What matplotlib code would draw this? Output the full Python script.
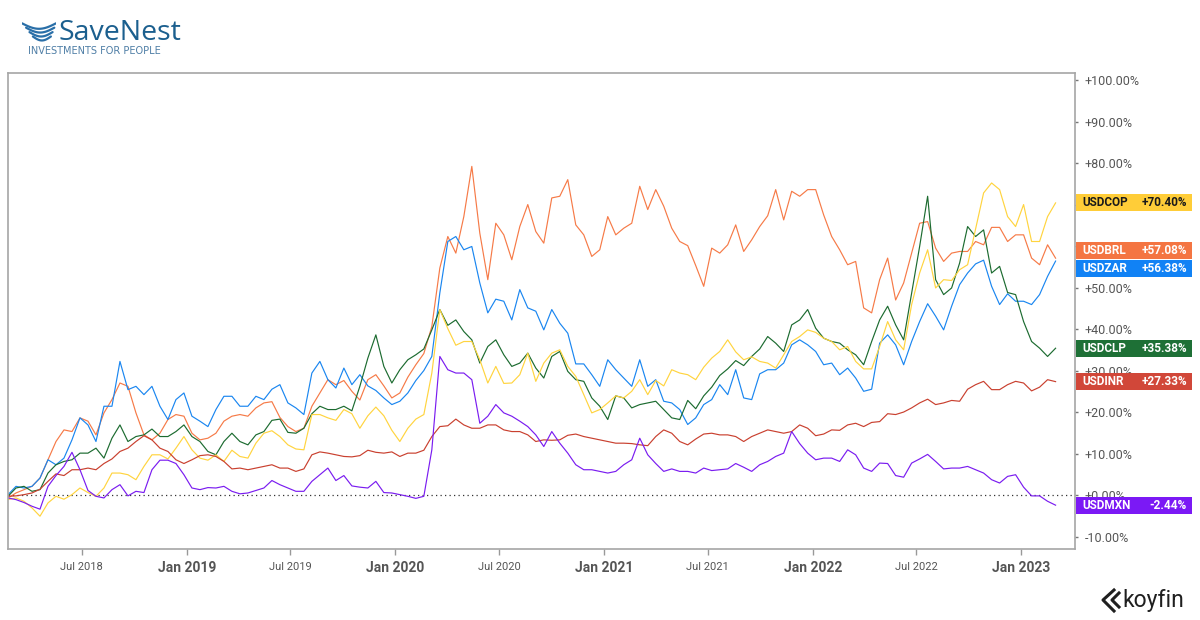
import matplotlib
matplotlib.use("Agg")
import matplotlib.pyplot as plt
import numpy as np
import pandas as pd
from matplotlib.patches import Rectangle
from matplotlib.lines import Line2D
from matplotlib.ticker import FuncFormatter

# ---- data: % change since start, one reading every two weeks ----
START = "2018-02-22"
STEP = "14D"

usdbrl = [-0.7, 0.5, 1.3, 2.1, 4.1, 8.5, 12.9, 15.7, 15.3, 18.6, 17.8, 14.5, 19.8, 23.0, 27.0, 26.2, 19.8,
          14.5, 13.3, 14.9, 18.2, 19.4, 19.0, 14.9, 13.3, 13.7, 14.9, 17.8, 19.0, 19.4, 19.0, 21.0, 22.2, 22.5,
          18.7, 16.5, 15.3, 16.1, 21.4, 24.6, 27.8, 26.6, 27.6, 25.0, 22.9, 27.8, 29.0, 26.3, 23.4, 24.6,
          28.4, 31.4, 34.1, 40.6, 54.7, 62.3, 58.3, 67.1, 79.2, 63.1, 51.9, 65.5, 62.7, 56.7, 64.7, 70.0,
          63.5, 60.7, 71.6, 72.0, 76.0, 65.1, 62.7, 57.5, 59.1, 67.1, 62.7, 64.3, 65.5, 74.4, 68.8, 73.6,
          69.6, 64.3, 61.1, 60.1, 55.3, 50.3, 59.5, 58.3, 60.3, 65.1, 58.7, 61.5, 64.7, 67.3, 73.6, 66.3,
          73.2, 72.0, 73.6, 73.6, 67.5, 62.3, 59.1, 55.5, 56.3, 45.1, 43.9, 51.9, 57.1, 47.0, 51.1, 58.3,
          65.5, 65.9, 59.5, 56.3, 58.3, 58.7, 58.7, 61.1, 60.3, 64.5, 64.5, 61.1, 62.7, 62.7, 57.1, 55.5,
          60.3, 57.08]

usdzar = [0.1, 2.1, 1.7, 2.1, 4.1, 8.5, 7.3, 8.9, 13.3, 18.6, 16.9, 12.9, 21.4, 21.4, 32.2, 25.4, 26.2,
          24.2, 26.2, 21.4, 18.2, 23.0, 24.6, 19.0, 17.8, 16.5, 20.6, 23.8, 23.8, 21.4, 21.4, 23.8, 23.0, 25.5,
          26.6, 22.2, 21.0, 19.4, 29.4, 32.2, 27.8, 25.8, 30.6, 26.6, 29.0, 26.3, 25.2, 23.4, 21.8, 22.6,
          24.6, 27.6, 30.0, 33.4, 48.7, 61.1, 62.3, 59.1, 59.9, 51.1, 43.9, 47.2, 46.7, 42.2, 49.5, 45.1,
          44.3, 39.8, 44.7, 41.4, 39.0, 31.6, 31.6, 29.0, 26.2, 32.6, 30.2, 28.2, 26.2, 32.6, 26.2, 27.8,
          22.6, 22.2, 20.6, 17.0, 18.6, 21.8, 23.0, 26.6, 24.2, 30.2, 23.4, 23.0, 29.2, 30.2, 30.2, 31.8,
          36.2, 37.4, 36.2, 34.6, 31.4, 31.8, 29.0, 30.6, 28.2, 25.0, 25.5, 36.6, 38.6, 36.2, 31.4, 37.0,
          41.8, 46.1, 43.1, 39.8, 45.5, 50.7, 53.5, 55.7, 56.6, 50.3, 45.9, 48.5, 46.7, 46.7, 45.9, 48.3,
          52.7, 56.38]

usdclp = [-0.3, 1.7, 2.1, 0.9, 1.3, 5.3, 7.3, 8.1, 8.5, 10.1, 10.1, 11.3, 8.9, 13.7, 16.9, 12.9, 14.1,
          14.5, 15.9, 14.1, 14.1, 15.3, 16.9, 14.1, 12.9, 10.5, 9.7, 12.9, 14.9, 12.9, 12.1, 14.5, 15.3, 18.0,
          18.3, 15.1, 14.9, 16.1, 19.6, 21.4, 20.6, 20.6, 21.4, 20.3, 26.2, 33.0, 38.6, 31.0, 27.0, 30.2,
          32.6, 33.8, 35.2, 39.8, 44.7, 40.9, 42.2, 39.4, 37.4, 31.8, 35.8, 37.4, 33.8, 31.0, 31.8, 34.2,
          30.6, 28.2, 33.4, 34.6, 29.8, 27.8, 27.4, 23.4, 21.4, 18.2, 23.9, 23.4, 21.0, 21.8, 22.2, 22.6,
          20.6, 18.6, 18.2, 22.8, 20.8, 23.9, 26.0, 28.8, 30.4, 32.4, 31.2, 33.4, 35.2, 38.2, 36.6, 34.6,
          41.0, 42.2, 44.7, 40.2, 37.8, 37.0, 36.6, 35.0, 33.8, 31.4, 37.0, 42.2, 45.5, 41.0, 37.4, 48.7,
          59.9, 72.0, 51.9, 48.3, 49.9, 55.9, 64.7, 62.3, 63.9, 53.5, 55.1, 48.8, 48.3, 41.8, 37.0, 35.4,
          33.4, 35.38]

usdcop = [-1.1, -0.7, -1.5, -3.1, -5.1, -1.9, -0.3, -1.0, 0.1, 1.7, 0.6, -0.3, 1.7, 5.3, 5.3, 4.9, 3.7,
          6.9, 9.7, 9.7, 8.7, 11.3, 14.1, 10.9, 8.9, 8.4, 9.7, 8.1, 10.8, 9.3, 8.9, 12.5, 14.9, 15.5,
          14.1, 12.1, 11.1, 10.9, 19.4, 19.4, 18.6, 18.0, 20.6, 19.6, 16.1, 19.1, 21.2, 19.1, 15.6, 12.9,
          16.1, 18.3, 19.4, 29.4, 44.7, 40.1, 36.1, 37.0, 37.0, 32.6, 27.0, 31.0, 26.9, 27.0, 29.0, 34.2,
          27.4, 31.8, 34.2, 35.0, 31.0, 28.6, 24.2, 19.8, 20.6, 22.2, 23.9, 23.4, 25.0, 27.8, 24.2, 27.6,
          26.3, 30.2, 29.4, 29.0, 27.8, 30.8, 33.0, 34.6, 37.4, 34.5, 32.6, 33.3, 32.2, 31.8, 30.6, 33.8,
          37.0, 38.2, 39.8, 39.2, 37.8, 37.0, 35.0, 35.8, 32.2, 30.4, 30.4, 35.8, 41.8, 37.4, 35.0, 45.9,
          53.5, 59.1, 49.9, 51.9, 51.7, 54.3, 55.5, 64.1, 72.8, 75.2, 73.6, 67.1, 64.7, 70.0, 61.1, 61.1,
          67.1, 70.40]

usdinr = [-0.3, -0.2, 0.1, 0.5, 1.4, 3.3, 5.1, 4.7, 6.1, 6.1, 6.5, 6.1, 7.6, 8.7, 10.5, 11.3, 12.9,
          14.3, 13.3, 11.3, 10.5, 8.5, 7.6, 8.5, 9.5, 9.7, 9.3, 8.1, 6.3, 6.5, 6.1, 6.5, 6.9, 7.3,
          6.5, 6.5, 5.7, 6.3, 9.7, 10.4, 10.1, 9.7, 9.3, 9.2, 9.5, 10.8, 10.3, 10.1, 10.4, 9.3,
          10.1, 10.1, 10.8, 14.1, 16.5, 16.7, 18.3, 16.9, 16.1, 16.1, 16.9, 16.9, 15.7, 15.3, 15.3, 14.5,
          12.9, 13.3, 13.2, 13.3, 14.4, 14.7, 14.1, 13.7, 13.3, 12.9, 12.5, 12.5, 12.4, 12.1, 11.9, 14.1,
          15.7, 14.9, 12.9, 12.1, 13.5, 14.7, 14.9, 14.5, 14.5, 14.1, 12.9, 14.1, 14.9, 15.7, 15.3, 14.9,
          15.3, 16.9, 16.1, 14.3, 14.7, 15.7, 15.6, 16.9, 17.3, 16.5, 17.5, 17.7, 19.6, 19.4, 20.0, 21.0,
          22.2, 23.1, 21.8, 22.2, 22.8, 22.6, 25.5, 26.6, 27.4, 25.4, 25.4, 26.6, 27.4, 27.0, 25.1, 26.0,
          27.8, 27.33]

usdmxn = [-0.7, -1.1, -1.8, -2.7, -3.4, 2.1, 4.7, 6.9, 10.3, 6.1, 1.1, -0.3, -0.7, 1.3, 2.5, -0.2, 0.9,
          0.6, 6.1, 8.4, 8.4, 7.6, 4.9, 1.7, 1.3, 1.8, 1.7, 2.1, 0.9, 0.3, 0.5, 1.1, 1.7, 3.5,
          2.5, 1.7, 0.9, 0.9, 3.3, 4.9, 6.5, 3.5, 4.7, 2.2, 1.9, 1.7, 3.3, 0.6, 0.5, 0.1,
          -0.3, -0.8, -0.3, 10.9, 33.4, 30.2, 29.4, 29.4, 27.8, 17.3, 19.0, 21.8, 19.8, 19.0, 17.8, 16.5,
          14.5, 11.7, 15.3, 12.5, 10.1, 7.3, 6.1, 6.1, 5.7, 5.3, 5.7, 7.3, 8.5, 13.7, 9.7, 7.6,
          5.7, 6.3, 5.7, 5.7, 5.3, 6.5, 5.9, 6.1, 6.3, 7.6, 6.7, 5.7, 7.3, 8.1, 9.3, 10.1,
          15.3, 12.4, 10.1, 8.5, 8.9, 8.9, 8.1, 10.9, 9.7, 6.5, 5.7, 7.7, 7.6, 4.7, 4.3, 7.7,
          8.7, 9.8, 8.1, 6.3, 6.5, 6.5, 6.9, 6.1, 5.3, 3.7, 2.9, 4.5, 4.9, 1.9, -0.2, -0.2,
          -1.5, -2.44]

tickers = ["USDBRL", "USDZAR", "USDCLP", "USDCOP", "USDINR", "USDMXN"]
series = [usdbrl, usdzar, usdclp, usdcop, usdinr, usdmxn]
line_colors = ["#F67A47", "#1A86F0", "#1C6B30", "#FFD43F", "#C9402F", "#7A1CF0"]
box_colors = ["#F47542", "#1182F5", "#1E7036", "#FFCD38", "#D14739", "#7B19F5"]
box_text = ["white", "white", "white", "#1a1a1a", "white", "white"]

dates = pd.date_range(START, periods=len(usdbrl), freq=STEP)

W, H = 1200, 620
fig = plt.figure(figsize=(W / 100, H / 100), dpi=100)
fig.patch.set_facecolor("white")
ax = fig.add_axes([8 / W, 1 - 549 / H, (1075 - 8) / W, (549 - 73) / H])

for vals, col in zip(series, line_colors):
    ax.plot(dates, vals, color=col, lw=0.85, solid_joinstyle="round")

ax.axhline(0, color="#333333", lw=0.9, ls=(0, (1, 2.6)), zorder=1)

ax.set_xlim(pd.Timestamp("2018-02-22"), pd.Timestamp("2023-04-05"))
ax.set_ylim(-13.0, 101.7)

for sp in ax.spines.values():
    sp.set_color("#A6A6A6")
    sp.set_linewidth(1.2)

# y axis on the right
ax.yaxis.tick_right()
ax.set_yticks(range(-10, 101, 10))
ax.yaxis.set_major_formatter(FuncFormatter(lambda v, p: f"{v:+.2f}%"))
ax.tick_params(axis="y", length=2, width=1, color="#777777", pad=5, labelsize=9,
               labelcolor="#555555")
for lab in ax.get_yticklabels():
    lab.set_fontfamily("Roboto")

# x axis: half-year ticks, January in bold
xt = pd.to_datetime(["2018-07-01", "2019-01-01", "2019-07-01", "2020-01-01", "2020-07-01",
                     "2021-01-01", "2021-07-01", "2022-01-01", "2022-07-01", "2023-01-01"])
ax.set_xticks(xt)
ax.set_xticklabels([d.strftime("%b %Y") for d in xt])
ax.tick_params(axis="x", length=4, width=1, color="#999999", pad=5)
for d, lab in zip(xt, ax.get_xticklabels()):
    lab.set_fontfamily("Roboto")
    lab.set_color("#555555")
    if d.month == 1:
        lab.set_fontsize(10)
        lab.set_fontweight("bold")
    else:
        lab.set_fontsize(8)

# last-value tags on the right
fig.canvas.draw()
last = [s[-1] for s in series]
ys = [ax.transData.transform((0, v))[1] for v in last]
order = sorted(range(len(ys)), key=lambda i: -ys[i])
pos = [ys[i] for i in order]
gap = 18.0
for _ in range(50):
    for j in range(len(pos) - 1):
        if pos[j] - pos[j + 1] < gap:
            mid = (pos[j] + pos[j + 1]) / 2
            pos[j], pos[j + 1] = mid + gap / 2, mid - gap / 2

# tick labels that sit fully under a tag are hidden, as in the source
for tv, lab in zip(ax.get_yticks(), ax.get_yticklabels()):
    ty = ax.transData.transform((0, tv))[1]
    if any(abs(ty - yc) < 7 for yc in pos):
        lab.set_visible(False)

for i, yc in zip(order, pos):
    fig.patches.append(Rectangle((1076 / W, (yc - 8.5) / H), 116 / W, 17 / H,
                                 transform=fig.transFigure, facecolor=box_colors[i],
                                 edgecolor="none", zorder=5))
    fig.text(1082 / W, yc / H, tickers[i], ha="left", va="center", fontsize=8.5,
             fontweight="bold", color=box_text[i], family="Roboto", zorder=6)
    fig.text(1187 / W, yc / H, f"{last[i]:+.2f}%", ha="right", va="center", fontsize=8.5,
             fontweight="bold", color=box_text[i], family="Roboto", zorder=6)

# SaveNest logo
fig.text(59 / W, 1 - 40 / H, "SaveNest", ha="left", va="baseline", fontsize=20.5,
         color="#1B5F8E", family="Open Sans")
fig.text(28 / W, 1 - 54 / H, "INVESTMENTS FOR PEOPLE", ha="left", va="baseline", fontsize=7,
         color="#4F7EA6", family="DejaVu Sans")
icon = fig.add_axes([22 / W, 1 - 42 / H, 34 / W, 22 / H])
icon.set_xlim(0, 1)
icon.set_ylim(0, 1)
icon.axis("off")
u = np.linspace(0, 1, 30)
for k, (lo, hi, depth) in enumerate([(0.0, 1.0, 0.25), (0.12, 0.95, 0.22),
                                      (0.22, 0.9, 0.2), (0.32, 0.85, 0.18)]):
    xx = lo + (hi - lo) * u
    yy = 0.85 - 0.2 * k - depth * np.sin(np.pi * u)
    icon.plot(xx, yy, color="#2A6FA8", lw=1.6, solid_capstyle="round")

# koyfin mark
for pts in ([(1114, 590), (1103, 600), (1114, 611)], [(1119, 593), (1112, 600), (1119, 607)]):
    xs = [p[0] / W for p in pts]
    yv = [1 - p[1] / H for p in pts]
    fig.lines.append(Line2D(xs, yv, transform=fig.transFigure, color="#1f1f1f", lw=2.2))
fig.text(1122 / W, 1 - 600 / H, "koyfin", ha="left", va="center", fontsize=16.5,
         color="#1f1f1f", family="Roboto")

fig.savefig("out.png", dpi=100, facecolor="white")
